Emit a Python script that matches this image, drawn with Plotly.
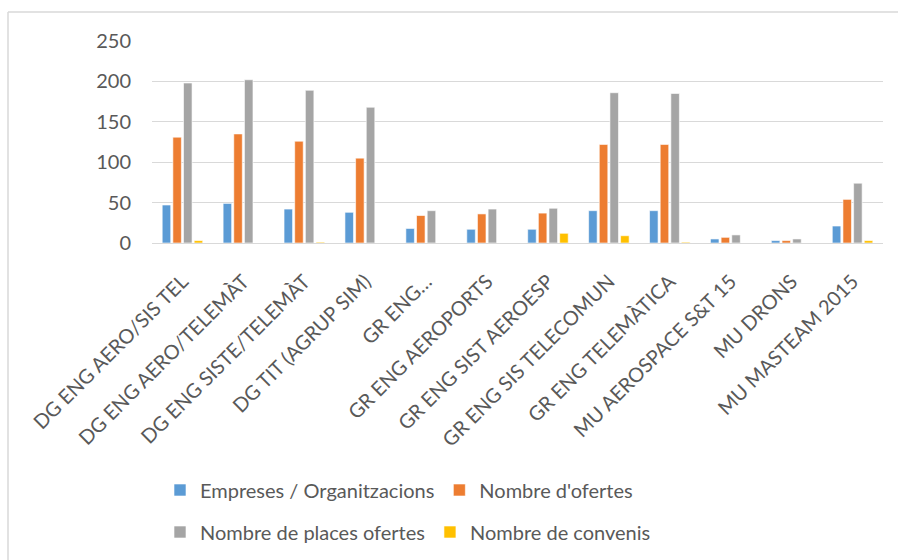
import plotly.graph_objects as go

categories = [
    "DG ENG AERO/SIS TEL",
    "DG ENG AERO/TELEMÀT",
    "DG ENG SISTE/TELEMÀT",
    "DG TIT (AGRUP SIM)",
    "GR ENG…",
    "GR ENG AEROPORTS",
    "GR ENG SIST AEROESP",
    "GR ENG SIS TELECOMUN",
    "GR ENG TELEMÀTICA",
    "MU AEROSPACE S&T 15",
    "MU DRONS",
    "MU MASTEAM 2015",
]
empreses = [47, 49, 42, 38, 18, 17, 17, 40, 40, 5, 3, 21]
ofertes = [131, 135, 126, 105, 34, 36, 37, 122, 122, 7, 3, 54]
places = [198, 202, 189, 168, 40, 42, 43, 186, 185, 10, 5, 74]
convenis = [3, 0, 1, 0, 0, 0, 12, 9, 1, 0, 0, 3]

series_names = ["Empreses / Organitzacions", "Nombre d'ofertes",
                "Nombre de places ofertes", "Nombre de convenis"]
colors = ["#5B9BD5", "#ED7D31", "#A5A5A5", "#FFC000"]
y_ticks = [0, 50, 100, 150, 200, 250]

FONT = "Lato, Carlito, Calibri, sans-serif"
TXT = "#595959"
FS = 20

fig = go.Figure()
for i, (name, vals, col) in enumerate(zip(series_names, [empreses, ofertes, places, convenis], colors)):
    fig.add_trace(go.Bar(
        x=categories, y=vals, name=name,
        marker=dict(color=col, line=dict(color="white", width=0.6)),
        legend="legend" if i < 2 else "legend2",
    ))

W, H = 898, 560
L, R, T, B = 152, 15, 41, 317
pw, ph = W - L - R, H - T - B

def px_x(x):
    return (x - L) / pw

def px_y(y):
    return (H - B - y) / ph

border = dict(color="#D9D9D9", width=1.5)
fig.update_layout(
    width=W, height=H,
    margin=dict(l=L, r=R, t=T, b=B, autoexpand=False),
    paper_bgcolor="white", plot_bgcolor="white",
    font=dict(family=FONT, size=FS, color=TXT),
    barmode="group", bargap=0.3, bargroupgap=0.2,
    showlegend=True,
    legend=dict(orientation="h", x=px_x(160), y=px_y(490), xanchor="left", yanchor="middle",
                font=dict(family=FONT, size=FS, color=TXT), bgcolor="rgba(0,0,0,0)",
                itemclick=False, itemdoubleclick=False),
    legend2=dict(orientation="h", x=px_x(160), y=px_y(532), xanchor="left", yanchor="middle",
                 font=dict(family=FONT, size=FS, color=TXT), bgcolor="rgba(0,0,0,0)",
                 itemclick=False, itemdoubleclick=False),
    shapes=[
        dict(type="line", xref="paper", yref="paper",
             x0=px_x(8), x1=px_x(898), y0=px_y(12), y1=px_y(12), line=border, layer="below"),
        dict(type="line", xref="paper", yref="paper",
             x0=px_x(8), x1=px_x(8), y0=px_y(12), y1=px_y(560), line=border, layer="below"),
    ],
)
fig.update_xaxes(
    tickangle=-45, showgrid=False, showline=True, linecolor="#D9D9D9", linewidth=1,
    ticks="", ticklabelstandoff=18, tickfont=dict(family=FONT, size=FS, color=TXT),
)
fig.update_yaxes(
    range=[0, 250], tickvals=y_ticks, showgrid=True, gridcolor="#D9D9D9", gridwidth=1,
    zeroline=False, showline=False, ticks="", ticklabelstandoff=20,
    tickfont=dict(family=FONT, size=FS, color=TXT),
)

fig.write_html(
    "out.html",
    config={"displayModeBar": False},
    post_script="document.documentElement.style.margin='0';document.body.style.margin='0';"
                "document.body.style.overflow='hidden';",
)
